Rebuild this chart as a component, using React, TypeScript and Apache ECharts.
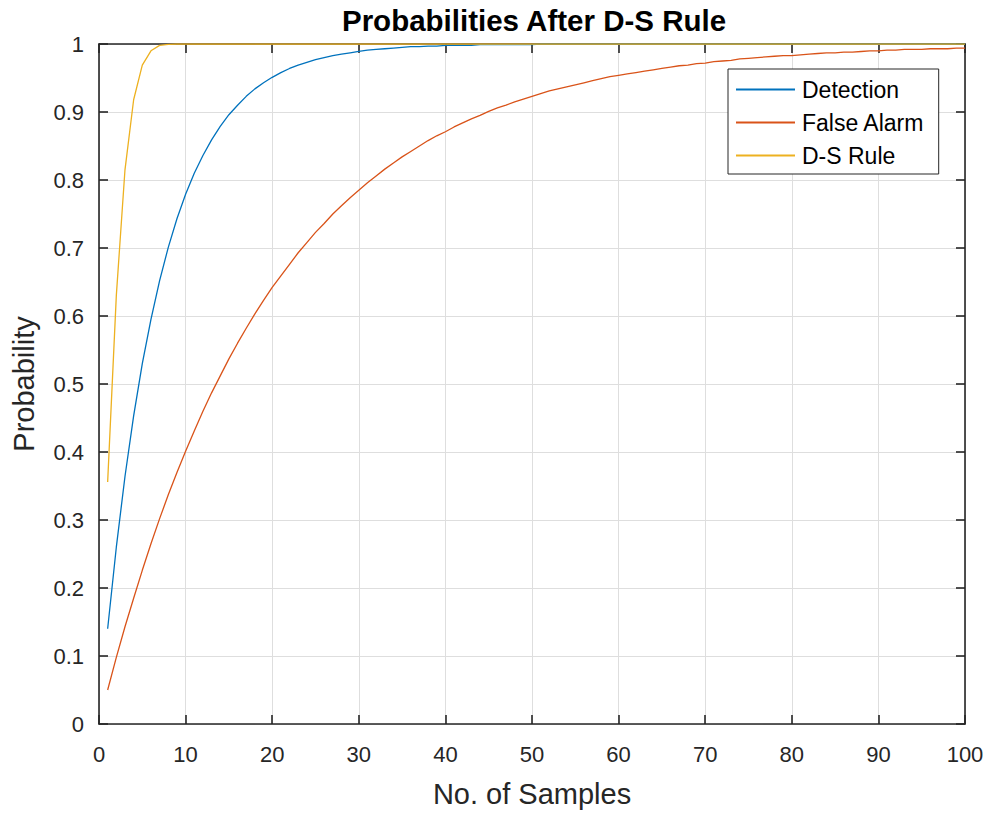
import React, { useEffect, useRef } from "react";
import * as echarts from "echarts";

const title = "Probabilities After D-S Rule";
const xName = "No. of Samples";
const yName = "Probability";
const seriesNames = ["Detection", "False Alarm", "D-S Rule"];
const colors = ["#0072BD", "#D95319", "#EDB120"];

// values at samples 1..100
const detection = [
  0.14, 0.26, 0.364, 0.453, 0.53, 0.595, 0.652, 0.701, 0.743, 0.779,
  0.81, 0.836, 0.859, 0.879, 0.896, 0.91, 0.923, 0.934, 0.943, 0.951,
  0.958, 0.964, 0.969, 0.973, 0.977, 0.98, 0.983, 0.985, 0.987, 0.989,
  0.991, 0.992, 0.993, 0.994, 0.995, 0.996, 0.996, 0.997, 0.997, 0.998,
  0.998, 0.998, 0.998, 0.999, 0.999, 0.999, 0.999, 0.999, 0.999, 0.999,
  1, 1, 1, 1, 1, 1, 1, 1, 1, 1,
  1, 1, 1, 1, 1, 1, 1, 1, 1, 1,
  1, 1, 1, 1, 1, 1, 1, 1, 1, 1,
  1, 1, 1, 1, 1, 1, 1, 1, 1, 1,
  1, 1, 1, 1, 1, 1, 1, 1, 1, 1,
];

const falseAlarm = [
  0.05, 0.098, 0.143, 0.185, 0.226, 0.265, 0.302, 0.337, 0.37, 0.401,
  0.431, 0.46, 0.487, 0.512, 0.537, 0.56, 0.582, 0.603, 0.623, 0.642,
  0.659, 0.676, 0.693, 0.708, 0.723, 0.736, 0.75, 0.762, 0.774, 0.785,
  0.796, 0.806, 0.816, 0.825, 0.834, 0.842, 0.85, 0.858, 0.865, 0.871,
  0.878, 0.884, 0.89, 0.895, 0.901, 0.906, 0.91, 0.915, 0.919, 0.923,
  0.927, 0.931, 0.934, 0.937, 0.94, 0.943, 0.946, 0.949, 0.952, 0.954,
  0.956, 0.958, 0.96, 0.962, 0.964, 0.966, 0.968, 0.969, 0.971, 0.972,
  0.974, 0.975, 0.976, 0.978, 0.979, 0.98, 0.981, 0.982, 0.983, 0.983,
  0.984, 0.985, 0.986, 0.987, 0.987, 0.988, 0.988, 0.989, 0.99, 0.99,
  0.991, 0.991, 0.992, 0.992, 0.992, 0.993, 0.993, 0.993, 0.994, 0.994,
];

const dsRule = [
  0.356, 0.63, 0.815, 0.918, 0.969, 0.99, 0.998, 0.9995, 1, 1,
  1, 1, 1, 1, 1, 1, 1, 1, 1, 1,
  1, 1, 1, 1, 1, 1, 1, 1, 1, 1,
  1, 1, 1, 1, 1, 1, 1, 1, 1, 1,
  1, 1, 1, 1, 1, 1, 1, 1, 1, 1,
  1, 1, 1, 1, 1, 1, 1, 1, 1, 1,
  1, 1, 1, 1, 1, 1, 1, 1, 1, 1,
  1, 1, 1, 1, 1, 1, 1, 1, 1, 1,
  1, 1, 1, 1, 1, 1, 1, 1, 1, 1,
  1, 1, 1, 1, 1, 1, 1, 1, 1, 1,
];

const FONT = "'Liberation Sans', Arial, Helvetica, sans-serif";
const AX = "#262626";

export default function App() {
  const ref = useRef<HTMLDivElement>(null);
  useEffect(() => {
    if (!ref.current) return;
    const chart = echarts.init(ref.current, undefined, { renderer: "svg" });
    const toPairs = (arr: number[]) => arr.map((v, i) => [i + 1, v]);
    const allData = [detection, falseAlarm, dsRule];
    const boxAxisLine = { show: true, onZero: false, lineStyle: { color: AX, width: 1.6 } };
    const ticks = { show: true, inside: true, length: 9, lineStyle: { color: AX, width: 1.6 } };
    const split = { show: true, lineStyle: { color: "#dedede", width: 1 } };
    chart.setOption({
      animation: false,
      backgroundColor: "#ffffff",
      title: {
        text: title,
        left: 529,
        textAlign: "center",
        top: 0,
        textStyle: { fontFamily: FONT, fontSize: 29.5, fontWeight: "bold", color: "#000" },
      },
      grid: { left: 99, right: 25, top: 44, bottom: 86, containLabel: false },
      legend: {
        orient: "vertical",
        left: 728,
        top: 69,
        padding: [8, 14, 6, 8],
        itemGap: 8,
        itemWidth: 59,
        itemHeight: 2,
        icon: "rect",
        borderColor: AX,
        borderWidth: 1,
        borderRadius: 0,
        backgroundColor: "#ffffff",
        textStyle: { fontFamily: FONT, fontSize: 23, color: "#000", lineHeight: 25, padding: [0, 0, 0, 2] },
        data: seriesNames,
      },
      xAxis: [
        {
          type: "value",
          min: 0,
          max: 100,
          interval: 10,
          position: "bottom",
          name: xName,
          nameLocation: "middle",
          nameGap: 55,
          nameTextStyle: { fontFamily: FONT, fontSize: 29, color: AX },
          axisLine: boxAxisLine,
          axisTick: ticks,
          axisLabel: { fontFamily: FONT, fontSize: 22, color: AX, margin: 19 },
          splitLine: split,
        },
        {
          type: "value",
          min: 0,
          max: 100,
          interval: 10,
          position: "top",
          axisLine: boxAxisLine,
          axisTick: ticks,
          axisLabel: { show: false },
          splitLine: { show: false },
        },
      ],
      yAxis: [
        {
          type: "value",
          min: 0,
          max: 1,
          interval: 0.1,
          position: "left",
          name: yName,
          nameLocation: "middle",
          nameGap: 61,
          nameTextStyle: { fontFamily: FONT, fontSize: 29, color: AX },
          axisLine: boxAxisLine,
          axisTick: ticks,
          axisLabel: {
            fontFamily: FONT,
            fontSize: 22,
            color: AX,
            margin: 15,
            formatter: (v: number) => String(Math.round(v * 10) / 10),
          },
          splitLine: split,
        },
        {
          type: "value",
          min: 0,
          max: 1,
          interval: 0.1,
          position: "right",
          axisLine: boxAxisLine,
          axisTick: ticks,
          axisLabel: { show: false },
          splitLine: { show: false },
        },
      ],
      series: seriesNames.map((name, k) => ({
        name,
        type: "line",
        xAxisIndex: 0,
        yAxisIndex: 0,
        data: toPairs(allData[k]),
        showSymbol: false,
        symbol: "none",
        color: colors[k],
        lineStyle: { color: colors[k], width: 1.3 },
        z: 3 + k,
      })),
    });
    return () => chart.dispose();
  }, []);
  return <div ref={ref} style={{ width: 990, height: 813, position: "absolute", left: 0, top: 0 }} />;
}
